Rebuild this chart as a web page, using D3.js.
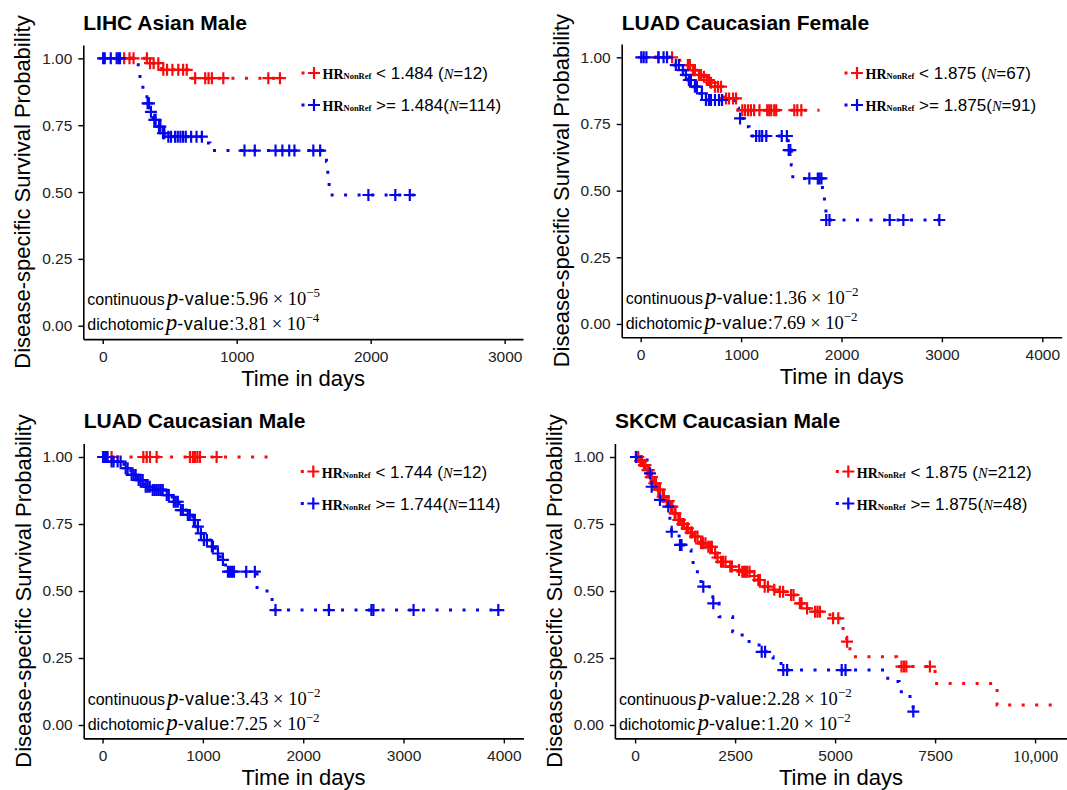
<!DOCTYPE html>
<html lang="en">
<head>
<meta charset="UTF-8">
<title>Disease-specific survival</title>
<script src="https://d3js.org/d3.v7.min.js"></script>
<style>
  * { margin: 0; padding: 0; }
  body { background: #fff; }
  svg { display: block; }
  text { white-space: pre; }
</style>
</head>
<body>
<svg id="chart" width="1067" height="790"></svg>
<script>
// ---- data ----
const titles = ["LIHC Asian Male", "LUAD Caucasian Female", "LUAD Caucasian Male", "SKCM Caucasian Male"];
const cutoffs = ["1.484", "1.875", "1.744", "1.875"];
const nLow = [12, 67, 12, 212];
const nHigh = [114, 91, 114, 48];
const pContMant = ["5.96", "1.36", "3.43", "2.28"];
const pContExp = [-5, -2, -2, -2];
const pDichMant = ["3.81", "7.69", "7.25", "1.20"];
const pDichExp = [-4, -2, -2, -2];
const yTicks = [0, 0.25, 0.5, 0.75, 1];
const xTicks = [
  [0, 1000, 2000, 3000],
  [0, 1000, 2000, 3000, 4000],
  [0, 1000, 2000, 3000, 4000],
  [0, 2500, 5000, 7500, 10000]
];

// Kaplan-Meier steps: [day, survival after the event]
const lihcLowSteps = [[335, 0.982], [440, 0.957], [650, 0.926]];
const lihcLowCens = [160, 200, 230, 330, 353, 380, 415, 452, 480, 520, 564, 600, 627, 690, 765, 790, 815, 900, 1236, 1323];
const lihcLowEnd = 1360;
const lihcHighSteps = [[230, 0.976], [265, 0.957], [278, 0.92], [300, 0.876], [330, 0.832], [350, 0.80], [375, 0.77],
  [410, 0.745], [440, 0.72], [475, 0.707], [775, 0.683], [800, 0.655], [1670, 0.614], [1680, 0.56], [1690, 0.508], [1700, 0.489]];
const lihcHighCens = [3, 15, 60, 104, 118, 129, 335, 345, 360, 385, 395, 420, 430, 450, 460, 490, 510, 540, 560, 580, 600,
  620, 660, 700, 740, 1058, 1135, 1290, 1341, 1392, 1431, 1572, 1623, 1983, 2184, 2292];
const lihcHighEnd = 2330;

const luadFLowSteps = [[390, 0.98], [460, 0.971], [500, 0.952], [560, 0.934], [610, 0.927], [650, 0.915], [690, 0.905],
  [720, 0.89], [830, 0.846], [970, 0.802]];
const luadFLowCens = [177, 313, 470, 490, 520, 540, 580, 600, 630, 660, 680, 700, 740, 770, 800, 850, 880, 920, 950, 1012,
  1040, 1070, 1098, 1130, 1183, 1260, 1280, 1300, 1330, 1350, 1530, 1560, 1600];
const luadFLowEnd = 1781;
const luadFHighSteps = [[290, 0.971], [390, 0.952], [440, 0.934], [470, 0.915], [520, 0.89], [590, 0.865], [640, 0.84],
  [930, 0.809], [975, 0.771], [1020, 0.74], [1080, 0.705], [1470, 0.652], [1500, 0.596], [1515, 0.546], [1810, 0.496],
  [1830, 0.459], [1845, 0.39]];
const luadFHighCens = [6, 30, 57, 177, 228, 262, 350, 380, 420, 450, 480, 500, 540, 560, 610, 650, 680, 700, 740, 780, 810,
  990, 1150, 1183, 1210, 1251, 1405, 1456, 1474, 1490, 1680, 1764, 1781, 1800, 1848, 1880, 2480, 2616, 2974];
const luadFHighEnd = 2992;

const luadMLowSteps = [];
const luadMLowCens = [20, 90, 406, 440, 473, 539, 871, 900, 921, 945, 971, 1137];
const luadMLowEnd = 1736;
const luadMHighSteps = [[76, 0.983], [213, 0.958], [282, 0.933], [350, 0.914], [419, 0.889], [488, 0.877], [625, 0.858],
  [694, 0.833], [762, 0.802], [831, 0.784], [899, 0.765], [934, 0.74], [968, 0.715], [1003, 0.69], [1072, 0.666],
  [1123, 0.64], [1174, 0.616], [1226, 0.591], [1243, 0.572], [1540, 0.50], [1690, 0.429]];
const luadMHighCens = [5, 20, 35, 50, 90, 110, 150, 180, 230, 250, 290, 310, 330, 360, 380, 400, 430, 450, 470, 500, 520,
  540, 560, 580, 600, 640, 660, 710, 730, 750, 780, 800, 850, 870, 910, 920, 950, 980, 1010, 1040, 1090, 1100, 1150, 1200,
  1250, 1270, 1290, 1310, 1432, 1518, 1724, 2256, 2680, 2700, 3100, 3945];
const luadMHighEnd = 3950;

const skcmLowSteps = [[100, 0.985], [200, 0.97], [290, 0.951], [370, 0.925], [455, 0.902], [560, 0.878], [665, 0.852],
  [760, 0.835], [872, 0.815], [960, 0.79], [1040, 0.765], [1150, 0.75], [1247, 0.734], [1350, 0.718], [1455, 0.703],
  [1622, 0.678], [1790, 0.665], [1955, 0.641], [2040, 0.625], [2122, 0.609], [2330, 0.591], [2500, 0.578], [2622, 0.572],
  [2950, 0.556], [3040, 0.541], [3205, 0.516], [3400, 0.505], [3540, 0.497], [3790, 0.485], [4040, 0.454], [4205, 0.435],
  [4450, 0.423], [4872, 0.398], [5200, 0.348], [5290, 0.311], [5372, 0.255], [6540, 0.218], [7500, 0.155], [9050, 0.075]];
const skcmLowCens = [40, 80, 130, 170, 220, 260, 310, 340, 390, 420, 480, 520, 580, 620, 690, 720, 790, 840, 900, 930, 990,
  1010, 1080, 1120, 1180, 1220, 1290, 1320, 1390, 1420, 1500, 1560, 1650, 1700, 1760, 1830, 1880, 1920, 2000, 2060, 2150,
  2200, 2260, 2380, 2420, 2600, 2680, 2720, 2760, 2800, 2860, 2980, 3080, 3120, 3240, 3320, 3480, 3620, 3700, 3900, 3960,
  4120, 4160, 4300, 4500, 4560, 4620, 4950, 5080, 5300, 6660, 6720, 6780, 7370];
const skcmLowEnd = 10540;
const skcmHighSteps = [[300, 0.939], [400, 0.889], [600, 0.84], [800, 0.815], [870, 0.759], [910, 0.721], [1100, 0.672],
  [1250, 0.653], [1400, 0.622], [1450, 0.572], [1600, 0.535], [1690, 0.516], [1900, 0.479], [1940, 0.454], [2100, 0.404],
  [2440, 0.348], [2600, 0.336], [2850, 0.305], [3100, 0.273], [3350, 0.255], [3450, 0.236], [3650, 0.205], [6240, 0.174],
  [6450, 0.162], [6600, 0.124], [6800, 0.106], [6950, 0.05]];
const skcmHighCens = [20, 372, 415, 622, 830, 915, 1122, 1160, 1705, 1955, 3165, 3250, 3705, 3800, 5165, 5260, 6955];
const skcmHighEnd = 6955;

const lowCurves = [
  {steps: lihcLowSteps, cens: lihcLowCens, end: lihcLowEnd},
  {steps: luadFLowSteps, cens: luadFLowCens, end: luadFLowEnd},
  {steps: luadMLowSteps, cens: luadMLowCens, end: luadMLowEnd},
  {steps: skcmLowSteps, cens: skcmLowCens, end: skcmLowEnd}
];
const highCurves = [
  {steps: lihcHighSteps, cens: lihcHighCens, end: lihcHighEnd},
  {steps: luadFHighSteps, cens: luadFHighCens, end: luadFHighEnd},
  {steps: luadMHighSteps, cens: luadMHighCens, end: luadMHighEnd},
  {steps: skcmHighSteps, cens: skcmHighCens, end: skcmHighEnd}
];

// ---- layout ----
const layouts = [
  {x0: 83.3, x1: 523, y0: 45, y1: 339.1, xDom: [-145, 3137], plusX: 314, legY: 79, pY: 305, titleY: 30},
  {x0: 621.7, x1: 1061.7, y0: 44, y1: 337.3, xDom: [-189, 4193], plusX: 857, legY: 79, pY: 304, titleY: 30},
  {x0: 83.7, x1: 523.4, y0: 443.6, y1: 738.4, xDom: [-188, 4195], plusX: 313.3, legY: 477.5, pY: 705, titleY: 428},
  {x0: 614.9, x1: 1067, y0: 443.6, y1: 738.4, xDom: [-505, 10798], plusX: 848.3, legY: 477.5, pY: 705, titleY: 428}
];

const sans = '"Liberation Sans", Arial, Helvetica, sans-serif';
const serif = '"Liberation Serif", "Times New Roman", Times, serif';
const lowColor = "#fa0a0a";
const highColor = "#0505ee";
const plusPath = "M-6,0H6M0,-6V6";

const svg = d3.select("#chart");

function kmPoints(c) {
  const pts = [[0, 1]].concat(c.steps);
  pts.push([c.end, pts[pts.length - 1][1]]);
  return pts;
}

function survAt(steps, t) {
  let s = 1;
  steps.forEach(d => { if (d[0] <= t) s = d[1]; });
  return s;
}

layouts.forEach((L, i) => {
  const g = svg.append("g");
  const x = d3.scaleLinear().domain(L.xDom).range([L.x0, L.x1]);
  const y = d3.scaleLinear().domain([-0.05, 1.05]).range([L.y1, L.y0]);

  // title
  g.append("text")
    .attr("x", L.x0).attr("y", L.titleY)
    .style("font-family", sans).style("font-weight", "bold").style("font-size", "21px")
    .text(titles[i]);

  // axes
  const xAxis = d3.axisBottom(x).tickValues(xTicks[i]).tickSize(5).tickSizeOuter(0).tickPadding(7)
    .tickFormat(d => d >= 10000 ? d3.format(",")(d) : d);
  const gx = g.append("g").attr("transform", `translate(0,${L.y1})`).attr("color", "#000").call(xAxis);
  gx.select(".domain").attr("stroke-width", 1.6);
  gx.selectAll(".tick line").attr("stroke-width", 1.4);
  gx.selectAll(".tick text")
    .style("font-family", d => d >= 10000 ? serif : sans)
    .style("font-size", d => d >= 10000 ? "16.5px" : "15.5px")
    .attr("fill", "#222");

  const yAxis = d3.axisLeft(y).tickValues(yTicks).tickSize(5).tickSizeOuter(0).tickPadding(6)
    .tickFormat(d3.format(".2f"));
  const gy = g.append("g").attr("transform", `translate(${L.x0},0)`).attr("color", "#000").call(yAxis);
  gy.select(".domain").attr("stroke-width", 1.6);
  gy.selectAll(".tick line").attr("stroke-width", 1.4);
  gy.selectAll(".tick text").style("font-family", sans).style("font-size", "15.5px").attr("fill", "#222");

  // axis titles
  g.append("text")
    .attr("x", (L.x0 + L.x1) / 2).attr("y", L.y1 + 47)
    .attr("text-anchor", "middle")
    .style("font-family", sans).style("font-size", "22px")
    .text("Time in days");
  g.append("text")
    .attr("transform", `translate(${L.x0 - 53},${(L.y0 + L.y1) / 2}) rotate(-90)`)
    .attr("text-anchor", "middle")
    .style("font-family", sans).style("font-size", "22px")
    .text("Disease-specific Survival Probability");

  // curves
  const line = d3.line().curve(d3.curveStepAfter).x(d => x(d[0])).y(d => y(d[1]));
  const curves = [[lowCurves[i], lowColor], [highCurves[i], highColor]];
  curves.forEach(([c, col]) => {
    g.append("path")
      .attr("d", line(kmPoints(c)))
      .attr("fill", "none")
      .attr("stroke", col)
      .attr("stroke-width", 3)
      .attr("stroke-dasharray", "3 10.5");
  });
  curves.forEach(([c, col]) => {
    g.selectAll(null)
      .data(c.cens)
      .join("path")
      .attr("d", plusPath)
      .attr("transform", t => `translate(${x(t)},${y(survAt(c.steps, t))})`)
      .attr("stroke", col)
      .attr("stroke-width", 2.2)
      .attr("fill", "none");
  });

  // legend
  const rows = [
    {col: lowColor, op: "< ", cut: cutoffs[i] + " (", n: nLow[i]},
    {col: highColor, op: ">= ", cut: cutoffs[i] + "(", n: nHigh[i]}
  ];
  rows.forEach((r, k) => {
    const yb = L.legY + k * 32;
    g.append("rect")
      .attr("x", L.plusX - 12.5).attr("y", yb - 7.5)
      .attr("width", 3).attr("height", 3)
      .attr("fill", r.col);
    g.append("path")
      .attr("d", plusPath)
      .attr("transform", `translate(${L.plusX},${yb - 6})`)
      .attr("stroke", r.col).attr("stroke-width", 2.2);
    const t = g.append("text").attr("x", L.plusX + 8.5).attr("y", yb);
    t.append("tspan").text("HR")
      .style("font-family", serif).style("font-weight", "bold").style("font-size", "14px");
    t.append("tspan").text("NonRef")
      .style("font-family", serif).style("font-weight", "bold").style("font-size", "8.5px");
    t.append("tspan").text(" " + r.op + r.cut)
      .style("font-family", sans).style("font-size", "17px");
    t.append("tspan").text("N")
      .style("font-family", serif).style("font-style", "italic").style("font-size", "14.5px");
    t.append("tspan").text("=" + r.n + ")")
      .style("font-family", sans).style("font-size", "17px");
  });

  // p-values
  const pRows = [
    ["continuous", pContMant[i], pContExp[i]],
    ["dichotomic", pDichMant[i], pDichExp[i]]
  ];
  pRows.forEach((p, k) => {
    const t = g.append("text").attr("x", L.x0 + 4).attr("y", L.pY + k * 25);
    t.append("tspan").text(p[0]).style("font-family", sans).style("font-size", "16px");
    t.append("tspan").text("p").attr("dx", 2)
      .style("font-family", serif).style("font-style", "italic").style("font-size", "23px");
    t.append("tspan").text("-value:").style("font-family", sans).style("font-size", "18px")
      .style("letter-spacing", "0.5px");
    t.append("tspan").text(p[1] + " × 10").style("font-family", serif).style("font-size", "18.5px");
    t.append("tspan").text("−" + Math.abs(p[2])).attr("dy", -8)
      .style("font-family", serif).style("font-size", "13px");
  });
});
</script>
</body>
</html>
